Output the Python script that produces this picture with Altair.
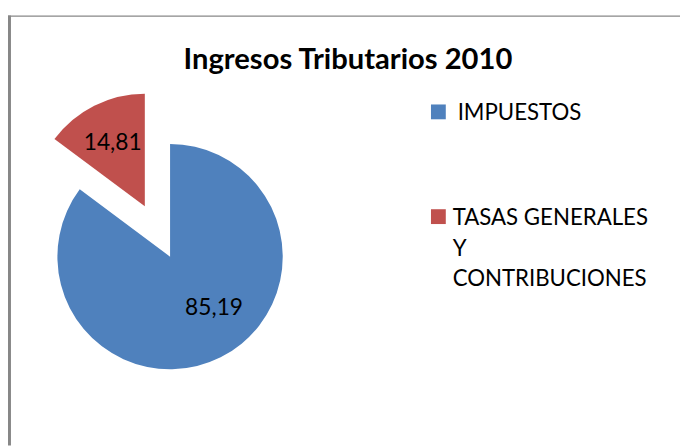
import altair as alt
import pandas as pd

# ---- data ----
title_text = "Ingresos Tributarios 2010"
categories = ["IMPUESTOS", "TASAS GENERALES Y CONTRIBUCIONES"]
values = [85.19, 14.81]
value_labels = ["85,19", "14,81"]
legend_lines = [["IMPUESTOS"], ["TASAS GENERALES", "Y", "CONTRIBUCIONES"]]
colors = ["#4F81BD", "#C0504D"]
exploded = [0, 1]

df = pd.DataFrame({
    "category": categories,
    "value": values,
    "label": value_labels,
    "legend": legend_lines,
    "order": list(range(len(categories))),
    "exploded": exploded,
})

# ---- layout constants (chart pixels) ----
W, H = 680, 440
CX, CY, R = 164, 249, 114
EXPLODE = 57
LABEL_R = 68
FONT = "Lato"

base = alt.Chart(df).transform_joinaggregate(
    total="sum(value)"
).transform_window(
    cum="sum(value)", sort=[alt.SortField("order")]
).transform_calculate(
    start="(datum.cum - datum.value) / datum.total * 2 * PI",
    end="datum.cum / datum.total * 2 * PI",
).transform_calculate(
    mid="(datum.start + datum.end) / 2",
).transform_calculate(
    cx=f"{CX} + datum.exploded * {EXPLODE} * sin(datum.mid)",
    cy=f"{CY} - datum.exploded * {EXPLODE} * cos(datum.mid)",
).transform_calculate(
    lx=f"datum.cx + {LABEL_R} * sin(datum.mid)",
    ly=f"datum.cy - {LABEL_R} * cos(datum.mid)",
    legy="111 + datum.order * 106",
    legx="datum.order == 0 ? 455 : 450",
)

color = alt.Color("category:N", scale=alt.Scale(domain=categories, range=colors), legend=None)

pie = base.mark_arc(radius=R).encode(
    x=alt.X("cx:Q", scale=None, axis=None),
    y=alt.Y("cy:Q", scale=None, axis=None),
    theta=alt.Theta("start:Q", scale=None),
    theta2="end:Q",
    color=color,
)

lab_big = base.transform_filter("datum.order == 0").mark_text(
    font=FONT, fontSize=23, color="black", dx=14, dy=-9, baseline="middle"
).encode(x=alt.X("lx:Q", scale=None), y=alt.Y("ly:Q", scale=None), text="label:N")

lab_small = base.transform_filter("datum.order == 1").mark_text(
    font=FONT, fontSize=23, color="black", dx=-2, dy=-3, baseline="middle"
).encode(x=alt.X("lx:Q", scale=None), y=alt.Y("ly:Q", scale=None), text="label:N")

leg_sym = base.mark_square(size=225, opacity=1).encode(
    x=alt.value(435.5),
    y=alt.Y("legy:Q", scale=None),
    color=color,
    yOffset=alt.value(-8.5),
)

leg_txt = base.mark_text(
    font=FONT, fontSize=22.5, color="black", align="left", baseline="alphabetic", lineHeight=31
).encode(
    x=alt.X("legx:Q", scale=None),
    y=alt.Y("legy:Q", scale=None),
    text="legend",
)

title = alt.Chart(alt.Data(values=[{"t": title_text}])).mark_text(
    font=FONT, fontSize=29.5, fontWeight="bold", color="black", align="center", baseline="alphabetic"
).encode(x=alt.value(344), y=alt.value(59), text="t:N")

frame_top = alt.Chart(alt.Data(values=[{}])).mark_rule(color="#878787", strokeWidth=1.3).encode(
    x=alt.value(0), x2=alt.value(W), y=alt.value(5.5)
)
frame_left = alt.Chart(alt.Data(values=[{}])).mark_rule(color="#878787", strokeWidth=3).encode(
    x=alt.value(1.5), y=alt.value(5), y2=alt.value(H)
)

chart = alt.layer(
    frame_top, frame_left, pie, lab_big, lab_small, leg_sym, leg_txt, title
).properties(
    width=W, height=H, padding=0, autosize=alt.AutoSizeParams(type="none"), background="white"
).configure_view(stroke=None)

chart.save("out.html", embed_options={"renderer": "svg", "actions": False})
